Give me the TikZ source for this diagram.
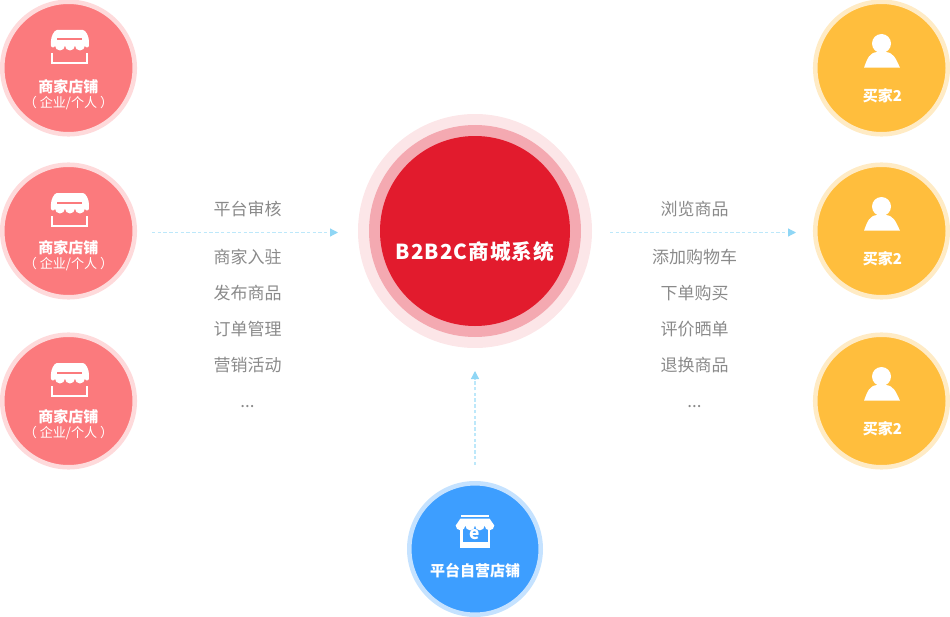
\documentclass[tikz,border=0pt]{standalone}
\usepackage{fontspec}
\setmainfont{Noto Sans CJK SC}
\usetikzlibrary{arrows.meta,positioning}
\definecolor{shopred}{HTML}{FB7A7D}
\definecolor{shopring}{HTML}{FEDADB}
\definecolor{buyeryellow}{HTML}{FFBE3D}
\definecolor{buyerring}{HTML}{FFEBC5}
\definecolor{selfblue}{HTML}{3D9EFF}
\definecolor{selfring}{HTML}{C5E2FF}
\definecolor{coreRed}{HTML}{E21B2D}
\definecolor{coreMid}{HTML}{F4A9B1}
\definecolor{coreOut}{HTML}{FCE6E8}
\definecolor{flowblue}{HTML}{8FD6F5}
\definecolor{flowdash}{HTML}{BDE8FA}
\definecolor{wordgray}{HTML}{8A8A8A}
\tikzset{
	shop icon/.pic={
		\fill[white] (-13,-18) -- (13,-18) .. controls (16,-18) and (19,-11) .. (19,-7) -- (19,-2.5) arc[start angle=0,delta angle=180,radius=2] arc[start angle=0,delta angle=180,radius=5] arc[start angle=0,delta angle=180,radius=5] arc[start angle=0,delta angle=180,radius=5] arc[start angle=0,delta angle=180,radius=2] -- (-19,-7) .. controls (-19,-11) and (-16,-18) .. (-13,-18) -- cycle;
		\fill[shopred] (-12.5,-9.5) rectangle (12.5,-7.5);
		\draw[white,line width=1.5pt] (-17.5,5) -- (-17.5,15) -- (17.5,15) -- (17.5,5);
	},
	self icon/.pic={
		\fill[white] (-14,-14.5) rectangle (14,-12);
		\fill[white] (-15,-1) rectangle (15,19);
		\fill[selfblue] (-12.5,-1) rectangle (12.5,13);
		\fill[white] (-14.5,-10.5) -- (14.5,-10.5) -- (19.3,-3.5) arc[start angle=0,delta angle=180,radius=4.825] arc[start angle=0,delta angle=180,radius=4.825] arc[start angle=0,delta angle=180,radius=4.825] arc[start angle=0,delta angle=180,radius=4.825] -- cycle;
		\node[font=\bfseries\fontsize{13}{13}\selectfont,text=white,inner sep=0pt] (selfe) at (0,6) {e};
	},
	buyer icon/.pic={
		\fill[white] (0,-24.5) circle[radius=9.5];
		\fill[white] (-17.5,-0.3) .. controls (-14,-10) and (-12,-15.5) .. (-4,-16) -- (4,-16) .. controls (12,-15.5) and (14,-10) .. (18.5,-0.3) -- cycle;
	},
	ring node/.style={circle,draw=#1,line width=3.4pt,minimum size=99.4pt,inner sep=0pt},
	shop node/.style={ring node=shopring,fill=shopred},
	buyer node/.style={ring node=buyerring,fill=buyeryellow},
	self node/.style={ring node=selfring,fill=selfblue,minimum size=98.6pt},
	title text/.style={text=white,font=\bfseries\fontsize{11.25}{11.25}\selectfont,inner sep=0pt},
	sub text/.style={text=white,font=\fontsize{9.8}{9.8}\selectfont,inner sep=0pt},
	word text/.style={text=wordgray,font=\fontsize{12.75}{12.75}\selectfont,inner sep=0pt},
	flow/.style={flowdash,line width=.9pt,dash pattern=on 2.6pt off 1.7pt,-{Triangle[length=6pt,width=6pt,color=flowblue]}},
}
\begin{document}
\begin{tikzpicture}[x=.75pt,y=-.75pt]
	\useasboundingbox (0,0) rectangle (950,617);

	\node[circle,fill=coreOut,minimum size=175.5pt,inner sep=0pt] (core out) at (475,231) {};
	\node[circle,fill=coreMid,minimum size=159pt,inner sep=0pt] (core mid) at (core out) {};
	\node[circle,fill=coreRed,minimum size=142.5pt,inner sep=0pt] (core) at (core out) {};
	\node[text=white,font=\bfseries\fontsize{15.5}{15.5}\selectfont,inner sep=0pt] (core title) at (475,252) {\addfontfeature{LetterSpace=5}B2B2C商城系统};

	\node[shop node] (shop 2) at (68.5,231) {};
	\node[shop node] (shop 1) at (68.5,68) {};
	\node[shop node] (shop 3) at (68.5,401) {};
	\node[buyer node] (buyer 2) at (881.5,231) {};
	\node[buyer node] (buyer 1) at (881.5,68) {};
	\node[buyer node] (buyer 3) at (881.5,401) {};
	\node[self node] (self) at (475,549) {};

	\foreach \n/\d in {1/14,2/12.5,3/11.8} {
		\pic at ([xshift=1.1pt,yshift=15pt]shop \n.center) {shop icon};
		\node[title text] (shop title \n) at ([yshift=-\d pt]shop \n.center) {商家店铺};
		\node[sub text] (shop sub \n) at ([yshift=-\d pt-12pt]shop \n.center) {（ 企业/个人 ）};
		\pic at (buyer \n.center) {buyer icon};
		\node[title text] (buyer title \n) at ([xshift=.75pt,yshift=-20.5pt]buyer \n.center) {买家2};
	}
	\pic at ([yshift=15pt]self.center) {self icon};
	\node[title text] (self title) at ([yshift=-16pt]self.center) {平台自营店铺};

	\node[word text] (audit) at (247.5,209.3) {平台审核};
	\node[word text] (join) at (247.5,257.3) {商家入驻};
	\node[word text] (publish) at (247.5,293.3) {发布商品};
	\node[word text] (order) at (247.5,329.3) {订单管理};
	\node[word text] (market) at (247.5,365.3) {营销活动};
	\node[word text] (more l) at (247.5,407) {...};

	\node[word text] (browse) at (694.5,209.3) {浏览商品};
	\node[word text] (cart) at (694.5,257.3) {添加购物车};
	\node[word text] (buy) at (694.5,293.3) {下单购买};
	\node[word text] (review) at (694.5,329.3) {评价晒单};
	\node[word text] (refund) at (694.5,365.3) {退换商品};
	\node[word text] (more r) at (694.5,407) {...};

	\coordinate (flow l a) at (152,232.5);
	\coordinate (flow l b) at (338,232.5);
	\coordinate (flow r a) at (610,232.5);
	\coordinate (flow r b) at (796,232.5);
	\coordinate (flow c a) at (475,465);
	\coordinate (flow c b) at (475,371);
	\draw[flow] (flow l a) -- (flow l b);
	\draw[flow] (flow r a) -- (flow r b);
	\draw[flow] (flow c a) -- (flow c b);
\end{tikzpicture}
\end{document}
